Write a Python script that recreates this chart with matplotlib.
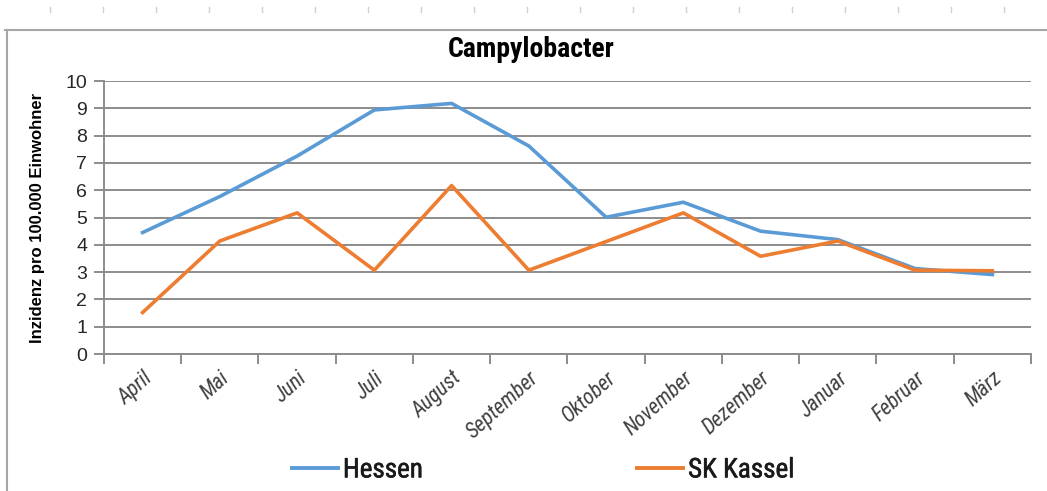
import matplotlib.pyplot as plt
import matplotlib.patheffects as pe
from matplotlib.lines import Line2D
from matplotlib import font_manager

months = ['April', 'Mai', 'Juni', 'Juli', 'August', 'September', 'Oktober',
          'November', 'Dezember', 'Januar', 'Februar', 'März']
hessen = [4.45, 5.77, 7.25, 8.94, 9.18, 7.62, 5.01, 5.56, 4.5, 4.19, 3.13, 2.91]
kassel = [1.52, 4.14, 5.17, 3.07, 6.17, 3.07, 4.12, 5.17, 3.58, 4.14, 3.07, 3.05]

fonts = {f.name for f in font_manager.fontManager.ttflist}
narrow = 'DejaVu Sans'
for cand in ['Roboto Condensed', 'Open Sans Condensed', 'Liberation Sans Narrow']:
    if cand in fonts:
        narrow = cand
        break
plt.rcParams['font.family'] = ['Liberation Sans', 'DejaVu Sans']
NP = {'family': narrow, 'stretch': 'condensed'}

fig = plt.figure(figsize=(10.47, 4.91), dpi=100)
ax = fig.add_axes([0.0993, 0.279, 0.8854, 0.556])

grid_c = '#8c8c8c'
x = range(len(months))
ax.plot(x, hessen, color='#5b9bd5', lw=2.6, label='Hessen', solid_joinstyle='round')
ax.plot(x, kassel, color='#ed7d31', lw=2.6, label='SK Kassel', solid_joinstyle='round')

ax.set_xlim(-0.5, len(months) - 0.5)
ax.set_ylim(0, 10)
ax.set_yticks(range(0, 11))
ax.yaxis.grid(True, color=grid_c, lw=1.4)
ax.set_axisbelow(True)
for s in ['top', 'right']:
    ax.spines[s].set_visible(False)
for s in ['left', 'bottom']:
    ax.spines[s].set_color(grid_c)
    ax.spines[s].set_linewidth(1.4)

# category ticks between months, labels centred on months
ax.set_xticks([i - 0.5 for i in range(len(months) + 1)])
ax.set_xticklabels([])
ax.set_xticks(list(x), minor=True)
ax.set_xticklabels(months, minor=True, rotation=42, ha='right', va='top',
                   rotation_mode='anchor', fontsize=15.5, style='italic',
                   color='#404040', **NP)
ax.tick_params(axis='x', which='minor', length=0, pad=10)
ax.tick_params(axis='x', which='major', length=7, width=1.4, color=grid_c)
ax.tick_params(axis='y', length=7, width=1.4, color=grid_c, labelsize=14, pad=5,
               labelcolor='#262626')

ax.set_ylabel('Inzidenz pro 100.000 Einwohner', fontsize=12, fontweight='bold', labelpad=15)
fig.text(0.507, 0.9, 'Campylobacter', ha='center', va='center', fontsize=20,
         fontweight='bold', **NP)

handles = [Line2D([], [], color='#5b9bd5', lw=2.8), Line2D([], [], color='#ed7d31', lw=2.8)]
leg = fig.legend(handles, ['Hessen', 'SK Kassel'], loc='center', bbox_to_anchor=(0.519, 0.043),
                 ncol=2, frameon=False, columnspacing=7.9, handlelength=1.7, handletextpad=0.18,
                 prop={'size': 19.5, 'weight': 'normal', **NP}, labelcolor='#1a1a1a')
for t in leg.get_texts():
    t.set_path_effects([pe.withStroke(linewidth=0.4, foreground='#1a1a1a')])

# spreadsheet frame around the chart
frame_c = '#a6a6a6'
fig.add_artist(Line2D([5 / 1047, 1], [1 - 30 / 491, 1 - 30 / 491], color=frame_c, lw=1.5))
fig.add_artist(Line2D([7 / 1047, 7 / 1047], [0, 1 - 30 / 491], color=frame_c, lw=1.5))
for px in range(50, 1047, 53):
    fig.add_artist(Line2D([px / 1047, px / 1047], [1 - 7 / 491, 1 - 12 / 491], color='#d0d0d0', lw=1))

fig.savefig('out.png', dpi=100)
